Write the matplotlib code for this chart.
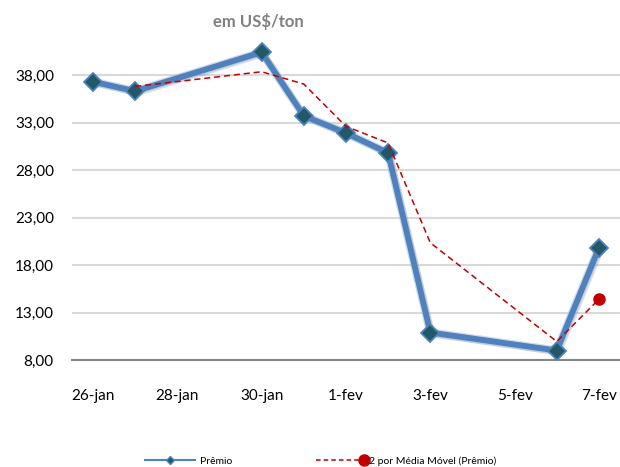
import pandas as pd
import numpy as np
import matplotlib
matplotlib.use("Agg")
import matplotlib.pyplot as plt
import matplotlib.patheffects as pe
from matplotlib.legend_handler import HandlerLine2D

plt.rcParams['font.family'] = ['Lato', 'DejaVu Sans']

# dados
datas = ['2016-01-26', '2016-01-27', '2016-01-30', '2016-01-31', '2016-02-01',
         '2016-02-02', '2016-02-03', '2016-02-06', '2016-02-07']
premio = [37.3, 36.3, 40.4, 33.7, 31.9, 29.8, 10.9, 9.0, 19.8]
media_movel = [np.nan, 36.8, 38.35, 37.05, 32.6, 30.85, 20.35, 9.95, 14.4]

datas_ticks = ['2016-01-26', '2016-01-28', '2016-01-30', '2016-02-01',
               '2016-02-03', '2016-02-05', '2016-02-07']
labels_ticks = ['26-jan', '28-jan', '30-jan', '1-fev', '3-fev', '5-fev', '7-fev']
yticks = [8, 13, 18, 23, 28, 33, 38]

datas = pd.to_datetime(datas)
datas_ticks = pd.to_datetime(datas_ticks)


# marcador no fim da linha na legenda (como no excel)
class HandlerFim(HandlerLine2D):
    def create_artists(self, *args, **kwargs):
        artistas = super().create_artists(*args, **kwargs)
        artistas[0].set_markevery([2])
        return artistas


fig = plt.figure(figsize=(6.2, 4.67), dpi=100)
ax = fig.add_axes([0.116, 0.229, 0.884, 0.712])

azul = '#4F81BD'
# linha com brilho/sombra, marcadores por cima
ax.plot(datas, premio, color=azul, lw=4.2, zorder=3,
        path_effects=[pe.SimpleLineShadow(offset=(1.5, -1.5), alpha=0.12),
                      pe.Stroke(linewidth=6, foreground='#A7C0DE', alpha=0.6),
                      pe.Normal()])
ax.plot(datas, premio, ls='none', marker='D', markersize=9,
        markerfacecolor='#215968', markeredgecolor=azul, markeredgewidth=1.3, zorder=4)
ax.plot(datas, media_movel, color='#C00000', lw=1.1, ls=(0, (4, 2.5)), zorder=5)
ax.plot(datas[-1:], media_movel[-1:], 'o', color='#C00000', markersize=8, zorder=6)

ax.set_xlim(pd.Timestamp('2016-01-25 12:00'), pd.Timestamp('2016-02-07 12:00'))
ax.set_ylim(8, 43)
ax.set_yticks(yticks)
ax.set_yticklabels([f'{v:.2f}'.replace('.', ',') for v in yticks], fontsize=11)
ax.set_xticks(datas_ticks)
ax.set_xticklabels(labels_ticks, fontsize=11)
ax.tick_params(axis='both', length=0)
ax.tick_params(axis='x', pad=21)
ax.tick_params(axis='y', pad=13)

ax.grid(axis='y', color='#D9D9D9', lw=1.5)
ax.set_axisbelow(True)
for s in ['left', 'right', 'top']:
    ax.spines[s].set_visible(False)
ax.spines['bottom'].set_color('#868686')
ax.spines['bottom'].set_linewidth(1.5)

fig.text(0.416, 0.955, 'em US$/ton', color='#808080', fontsize=12, fontweight='bold',
         ha='center', va='center')

# legenda em baixo, duas entradas separadas
legenda_premio = plt.Line2D([], [], color=azul, lw=1.5, marker='D', markersize=4,
                            markerfacecolor='#215968', markeredgecolor=azul, label='Prêmio')
legenda_mm = plt.Line2D([], [], color='#C00000', lw=1.1, ls=(0, (3, 2)), marker='o',
                        markersize=8, label='2 por Média Móvel (Prêmio)')
fig.legend(handles=[legenda_premio], loc='center left', bbox_to_anchor=(0.234, 0.013),
           frameon=False, fontsize=7.5, handlelength=4.8, handletextpad=0.5,
           borderpad=0, borderaxespad=0, numpoints=1)
fig.legend(handles=[legenda_mm], loc='center left', bbox_to_anchor=(0.51, 0.013),
           frameon=False, fontsize=7.5, handlelength=4.6, handletextpad=0.5,
           borderpad=0, borderaxespad=0, numpoints=1,
           handler_map={legenda_mm: HandlerFim()})

plt.savefig('out.png', dpi=100)
